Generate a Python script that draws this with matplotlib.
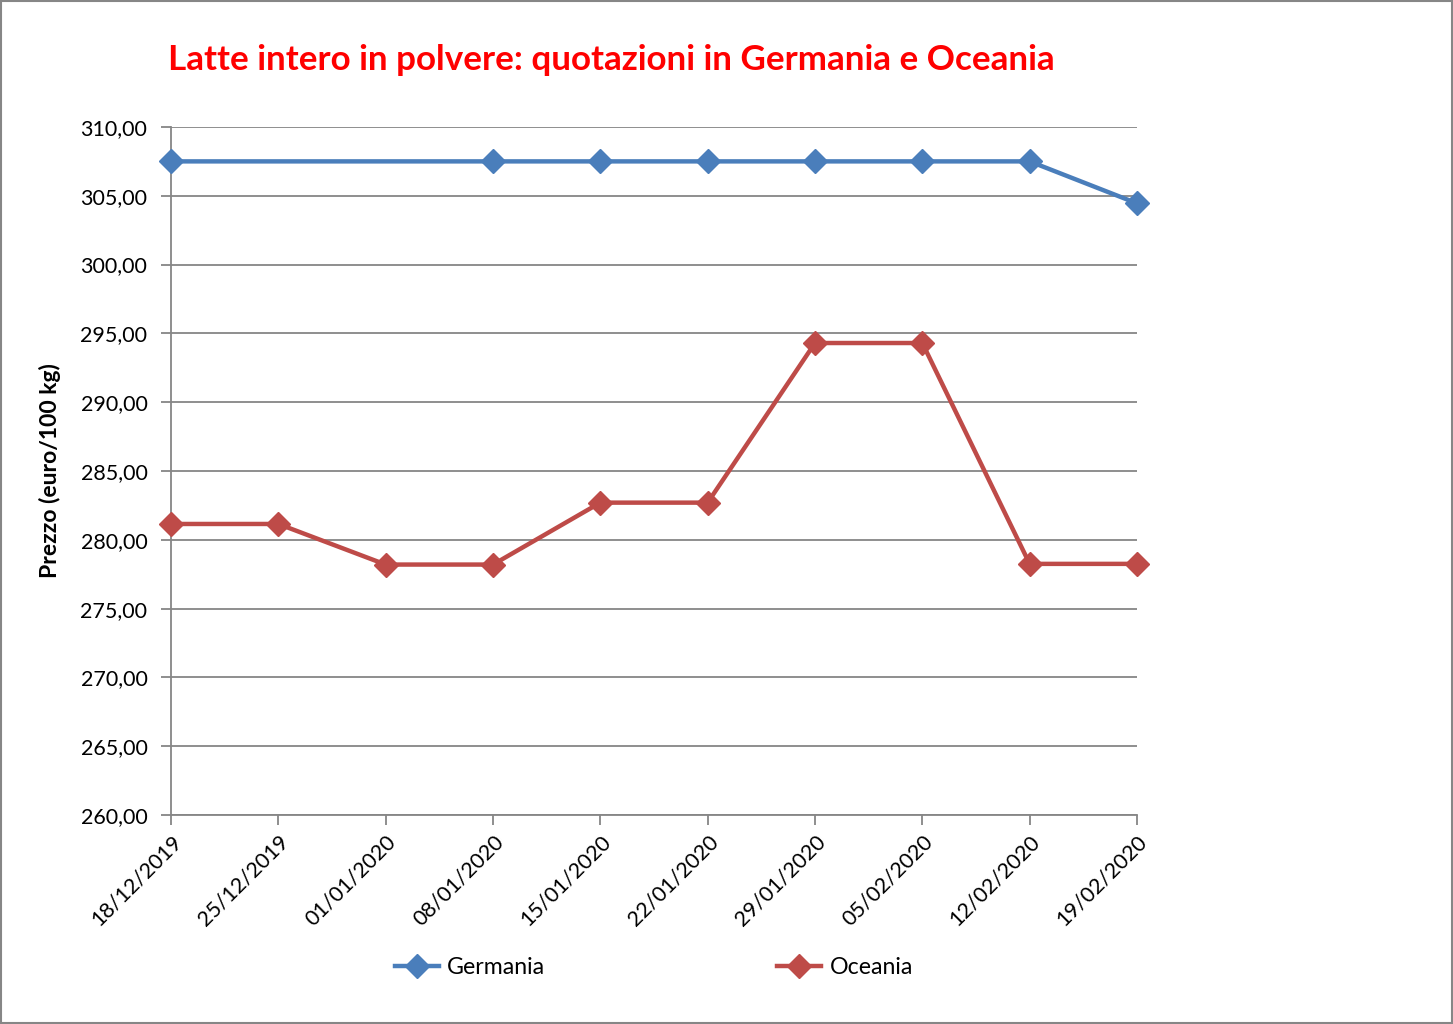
import numpy as np
import matplotlib
matplotlib.use("Agg")
import matplotlib.pyplot as plt
from matplotlib.patches import Rectangle

plt.rcParams['font.family'] = ['Lato', 'DejaVu Sans']

dates = ["18/12/2019", "25/12/2019", "01/01/2020", "08/01/2020", "15/01/2020",
         "22/01/2020", "29/01/2020", "05/02/2020", "12/02/2020", "19/02/2020"]
germania = [307.50, np.nan, np.nan, 307.50, 307.50, 307.50, 307.50, 307.50, 307.50, 304.45]
oceania = [281.15, 281.15, 278.20, 278.20, 282.70, 282.70, 294.30, 294.30, 278.25, 278.25]

blue = '#4A7EBB'
red = '#BE4B48'

fig = plt.figure(figsize=(14.53, 10.24), dpi=100)
ax = fig.add_axes([0.1177, 0.2041, 0.6648, 0.6719])

x = np.arange(len(dates))
g = np.array(germania)
ok = ~np.isnan(g)
ax.plot(x[ok], g[ok], '-D', color=blue, linewidth=3.2, markersize=12.5,
        label='Germania', zorder=3, clip_on=False)
ax.plot(x, oceania, '-D', color=red, linewidth=3.2, markersize=12.5,
        label='Oceania', zorder=3, clip_on=False)

ax.set_xlim(0, len(dates) - 1)
ax.set_ylim(260, 310)
ax.set_yticks(np.arange(260, 311, 5))
ax.set_yticklabels([f"{v:.2f}".replace('.', ',') for v in np.arange(260, 311, 5)])
ax.set_xticks(x)
ax.set_xticklabels(dates, rotation=45, ha='right', rotation_mode='anchor')
ax.yaxis.grid(True, color='#868686', linewidth=1.3)
ax.set_axisbelow(True)
for s in ['top', 'right']:
    ax.spines[s].set_visible(False)
for s in ['left', 'bottom']:
    ax.spines[s].set_color('#868686')
    ax.spines[s].set_linewidth(1.3)
ax.tick_params(axis='both', colors='#868686', width=1.3, length=7,
               labelsize=15.5, labelcolor='black')
ax.tick_params(axis='y', pad=10)
ax.tick_params(axis='x', pad=5)

ax.set_ylabel('Prezzo (euro/100 kg)', fontsize=16.5, fontweight='bold', labelpad=14)

fig.text(0.1156, 0.941, 'Latte intero in polvere: quotazioni in Germania e Oceania',
         color='#FF0000', fontsize=25.2, fontweight='bold', va='center', ha='left')

fig.legend(loc='center', bbox_to_anchor=(0.45, 0.055), ncol=2, frameon=False,
           fontsize=16.7, columnspacing=10, handlelength=1.9, handletextpad=0.35)

fig.patches.append(Rectangle((0.001, 0.001), 0.998, 0.998, transform=fig.transFigure,
                             fill=False, edgecolor='#868686', linewidth=1.5))

plt.savefig("out.png", dpi=100)
